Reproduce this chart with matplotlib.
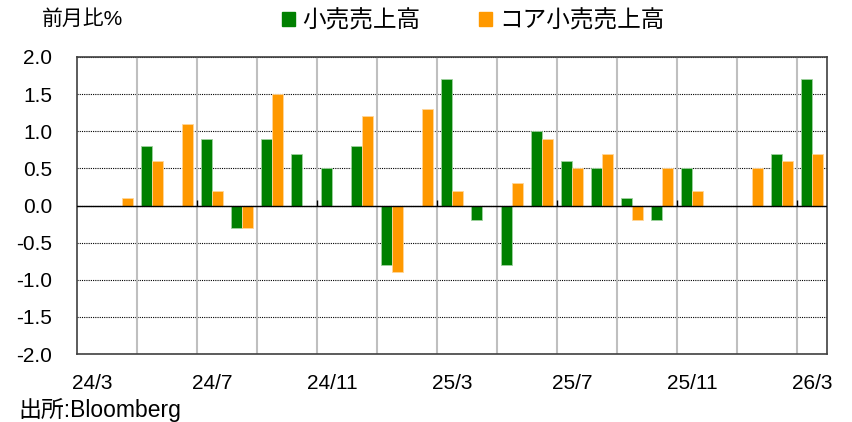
import numpy as np
import matplotlib
matplotlib.use("Agg")
from matplotlib import pyplot as plt
from matplotlib.patches import Patch

plt.rcParams['font.family'] = ['Liberation Sans', 'Noto Sans CJK JP', 'DejaVu Sans']

# monthly data 24/3 .. 26/3 (nan = no bar)
months = ["24/3", "24/4", "24/5", "24/6", "24/7", "24/8", "24/9", "24/10", "24/11", "24/12",
          "25/1", "25/2", "25/3", "25/4", "25/5", "25/6", "25/7", "25/8", "25/9", "25/10",
          "25/11", "25/12", "26/1", "26/2", "26/3"]
nan = np.nan
retail = [nan, nan, 0.8, nan, 0.9, -0.3, 0.9, 0.7, 0.5, 0.8,
          -0.8, nan, 1.7, -0.2, -0.8, 1.0, 0.6, 0.5, 0.1, -0.2,
          0.5, nan, nan, 0.7, 1.7]
core = [nan, 0.1, 0.6, 1.1, 0.2, -0.3, 1.5, nan, nan, 1.2,
        -0.9, 1.3, 0.2, nan, 0.3, 0.9, 0.5, 0.7, -0.2, 0.5,
        0.2, nan, 0.5, 0.6, 0.7]
label_names = ["小売売上高", "コア小売売上高"]
yticks = [-2.0, -1.5, -1.0, -0.5, 0.0, 0.5, 1.0, 1.5, 2.0]

green = "#008000"
orange = "#FF9900"

fig = plt.figure(figsize=(8.53, 4.22), dpi=100)
ax = fig.add_axes([0.0903, 0.161, 0.879, 0.704])

x = np.arange(len(months))
w = 0.37
ax.bar(x - w / 2, retail, width=w, color=green, edgecolor="#9fd29f", linewidth=0.6, zorder=3)
ax.bar(x + w / 2, core, width=w, color=orange, edgecolor="#ffd699", linewidth=0.6, zorder=3)

ax.set_xlim(-0.5, len(months) - 0.5)
ax.set_ylim(-2.0, 2.0)

# horizontal dotted grid
for yv in yticks:
    ax.axhline(yv, color="black", linestyle=(0, (1, 1)), linewidth=0.8, zorder=1)
ax.axhline(0, color="black", linewidth=1.0, zorder=4)

# vertical grid every two months
for xv in np.arange(1.5, len(months) - 1, 2):
    ax.axvline(xv, color="#bfbfbf", linewidth=1.5, zorder=2)

# small tick marks on the zero line at label boundaries
lab_idx = list(range(0, len(months), 4))
ax.vlines([i - 0.5 for i in lab_idx[1:]], 0, 0.08, color="black", linewidth=1.0, zorder=4)

ax.set_xticks(lab_idx)
ax.set_xticklabels([months[i] for i in lab_idx], fontsize=15)
ax.set_yticks(yticks)
ax.set_yticklabels([f"{v:.1f}" for v in yticks], fontsize=15)
ax.tick_params(axis="x", length=0, pad=14)
ax.tick_params(axis="y", length=0, pad=18)
for s in ax.spines.values():
    s.set_color("#404040")
    s.set_linewidth(1.2)

fig.text(0.049, 0.955, "前月比%", fontsize=15, va="center", ha="left")
fig.text(0.021, 0.028, "出所:Bloomberg", fontsize=16.5, va="center", ha="left")

handles = [Patch(color=green), Patch(color=orange)]
fig.legend(handles, label_names, loc="center", bbox_to_anchor=(0.555, 0.95), ncol=2,
           frameon=False, fontsize=17, handlelength=0.55, handleheight=0.55,
           handletextpad=0.3, columnspacing=2.5)

fig.savefig("out.png", dpi=100)
